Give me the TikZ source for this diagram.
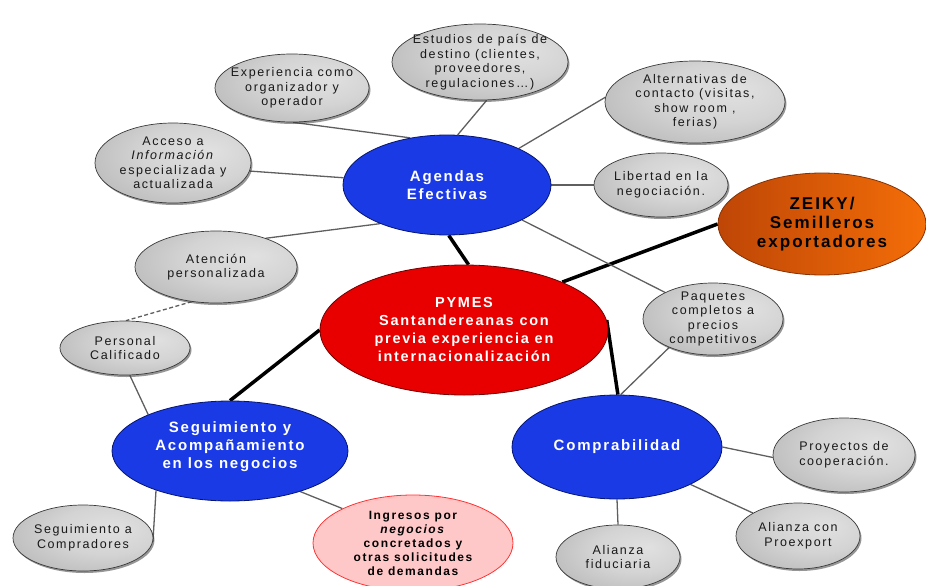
\documentclass[tikz,border=0pt]{standalone}
\usepackage{fontspec}
\setmainfont{Liberation Sans}
\newfontfamily\bubfont[LetterSpace=13]{Liberation Sans}
\newfontfamily\hubfont[LetterSpace=12]{Liberation Sans}
\usetikzlibrary{shapes.geometric,shadows,backgrounds}

\definecolor{hubblue}{RGB}{26,58,230}
\definecolor{hubblueedge}{RGB}{8,26,140}
\definecolor{corered}{RGB}{232,0,0}
\definecolor{coreredge}{RGB}{140,0,0}
\definecolor{zorange}{RGB}{244,110,8}
\definecolor{zorangedark}{RGB}{190,70,6}
\definecolor{pinkin}{RGB}{255,200,200}
\definecolor{pinkout}{RGB}{255,125,125}
\definecolor{twiggray}{RGB}{95,95,95}

\pgfdeclareradialshading{grayglow}{\pgfpoint{12bp}{8bp}}{color(0bp)=(gray!24); color(18bp)=(gray!34); color(44bp)=(gray!64); color(60bp)=(gray!72)}
\pgfdeclareradialshading{hubglow}{\pgfpoint{8bp}{4bp}}{color(0bp)=(hubblue); color(36bp)=(hubblue); color(54bp)=(hubblueedge)}
\pgfdeclareradialshading{coreglow}{\pgfpoint{6bp}{-4bp}}{color(0bp)=(corered); color(34bp)=(corered); color(56bp)=(coreredge)}
\pgfdeclareradialshading{pinkglow}{\pgfpoint{0bp}{-6bp}}{color(0bp)=(pinkin); color(26bp)=(pinkin); color(54bp)=(pinkout)}

\tikzset{
  bubble/.style={ellipse, inner sep=0pt},
  graybub/.style={bubble, shade, shading=grayglow, draw=gray!45!black, line width=0.7pt,
    drop shadow={shadow xshift=1.5pt, shadow yshift=-2pt, opacity=0.55, fill=black!75}},
  hubbub/.style={bubble, shade, shading=hubglow, draw=hubblueedge!80!black, line width=0.8pt},
  corebub/.style={bubble, shade, shading=coreglow, draw=coreredge!80!black, line width=0.8pt},
  zbub/.style={bubble, left color=zorangedark, right color=zorange, draw=zorangedark!70!black, line width=0.8pt},
  pinkbub/.style={bubble, shade, shading=pinkglow, draw=red!80, line width=0.8pt},
  graytxt/.style={align=center, text=black!90, font=\bubfont\fontsize{12.5}{14.5}\selectfont},
  hubtxt/.style={align=center, text=white, font=\hubfont\bfseries\fontsize{15}{18}\selectfont},
  coretxt/.style={align=center, text=white, font=\hubfont\bfseries\fontsize{14.5}{18}\selectfont},
  ztxt/.style={align=center, text=black, font=\hubfont\bfseries\fontsize{17}{19}\selectfont},
  pinktxt/.style={align=center, text=black, font=\bubfont\bfseries\fontsize{12}{14}\selectfont},
  trunk/.style={line width=3.5pt, black},
  twig/.style={line width=1.3pt, twiggray},
}

\begin{document}
\begin{tikzpicture}[x=1pt, y=-1pt]
\useasboundingbox (0,0) rectangle (926,586);

% central topic and its three branches
\node[corebub, minimum width=288pt, minimum height=130pt] (pymes) at (464,330) {};
\node[coretxt] (pymestxt) at (pymes) {PYMES\\Santandereanas con\\previa experiencia en\\internacionalización};

\node[hubbub, minimum width=208pt, minimum height=100pt] (agendas) at (447,185) {};
\node[hubtxt] (agendastxt) at (agendas) {Agendas\\Efectivas};

\node[hubbub, minimum width=236pt, minimum height=100pt] (seg) at (230,451) {};
\node[hubtxt] (segtxt) at ([yshift=4pt]seg.center) {Seguimiento y\\Acompañamiento\\en los negocios};

\node[hubbub, minimum width=210pt, minimum height=104pt] (compr) at (617,447) {};
\node[hubtxt] (comprtxt) at (compr) {Comprabilidad};

\node[zbub, minimum width=208pt, minimum height=102pt] (zeiky) at (822,224) {};
\node[ztxt] (zeikytxt) at (zeiky) {ZEIKY/\\Semilleros\\exportadores};

% gray leaves around Agendas Efectivas
\node[graybub, minimum width=176pt, minimum height=76pt] (estudios) at (480,62) {};
\node[graytxt] (estudiostxt) at (estudios) {Estudios de país de\\destino (clientes,\\proveedores,\\regulaciones…)};

\node[graybub, minimum width=154pt, minimum height=68pt] (experiencia) at (292,88) {};
\node[graytxt] (experienciatxt) at (experiencia) {Experiencia como\\organizador y\\operador};

\node[graybub, minimum width=156pt, minimum height=80pt] (acceso) at (173,163) {};
\node[graytxt] (accesotxt) at (acceso) {Acceso a\\\textit{Información}\\especializada y\\actualizada};

\node[graybub, minimum width=180pt, minimum height=82pt] (alternativas) at (695,102) {};
\node[graytxt] (alternativastxt) at (alternativas) {Alternativas de\\contacto (visitas,\\show room ,\\ferias)};

\node[graybub, minimum width=134pt, minimum height=64pt] (libertad) at (661,185) {};
\node[graytxt] (libertadtxt) at (libertad) {Libertad en la\\negociación.};

\node[graybub, minimum width=162pt, minimum height=72pt] (atencion) at (216,267) {};
\node[graytxt] (atenciontxt) at (atencion) {Atención\\personalizada};

\node[graybub, minimum width=140pt, minimum height=72pt] (paquetes) at (713,319) {};
\node[graytxt] (paquetestxt) at (paquetes) {Paquetes\\completos a\\precios\\competitivos};

% leaves of Seguimiento y Acompañamiento
\node[graybub, minimum width=130pt, minimum height=54pt] (personal) at (125,348) {};
\node[graytxt] (personaltxt) at (personal) {Personal\\Calificado};

\node[graybub, minimum width=140pt, minimum height=66pt] (compradores) at (83,538) {};
\node[graytxt] (compradorestxt) at (compradores) {Seguimiento a\\Compradores};

\node[pinkbub, minimum width=200pt, minimum height=96pt] (ingresos) at (413,543) {};
\node[pinktxt] (ingresostxt) at (ingresos) {Ingresos por\\\textit{negocios}\\concretados y\\otras solicitudes\\de demandas};

% leaves of Comprabilidad
\node[graybub, minimum width=142pt, minimum height=74pt] (proyectos) at (844,455) {};
\node[graytxt] (proyectostxt) at (proyectos) {Proyectos de\\cooperación.};

\node[graybub, minimum width=124pt, minimum height=66pt] (proexport) at (798,536) {};
\node[graytxt] (proexporttxt) at (proexport) {Alianza con\\Proexport};

\node[graybub, minimum width=124pt, minimum height=64pt] (fiduciaria) at (618,557) {};
\node[graytxt] (fiduciariatxt) at (fiduciaria) {Alianza\\fiduciaria};

% connectors
\begin{pgfonlayer}{background}
  \draw[trunk] (agendas.-88) -- (pymes.86);
  \draw[trunk] (pymes.26) -- (zeiky.180);
  \draw[trunk] (pymes.180) -- (seg.90);
  \draw[trunk] (pymes.4) -- (compr.89);

  \draw[twig] (agendas.78) -- (estudios.-80);
  \draw[twig] (agendas.128) -- (experiencia.-88);
  \draw[twig] (agendas.176) -- (acceso.-6);
  \draw[twig] (agendas.27) -- (alternativas.177);
  \draw[twig] (agendas.0) -- (libertad.180);
  \draw[twig] (agendas.-25) -- (paquetes.151);
  \draw[twig] (agendas.210) -- (atencion.30);

  \draw[twig, dash pattern=on 4pt off 2.5pt] (atencion.-125) -- (personal.88);
  \draw[twig] (personal.-80) -- (seg.156);
  \draw[twig] (seg.208) -- (compradores.-3);
  \draw[twig] (seg.-30) -- (ingresos.154);

  \draw[twig] (paquetes.213) -- (compr.86);
  \draw[twig] (compr.0) -- (proyectos.182);
  \draw[twig] (compr.-27) -- (proexport.153);
  \draw[twig] (compr.-90) -- (fiduciaria.90);
\end{pgfonlayer}
\end{tikzpicture}
\end{document}
